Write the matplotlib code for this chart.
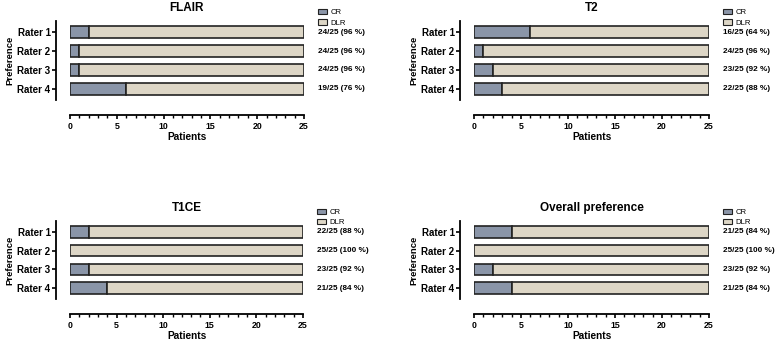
import matplotlib.pyplot as plt
import matplotlib.transforms as mtransforms
from matplotlib.patches import Patch

plt.rcParams['font.family'] = ['Liberation Sans', 'DejaVu Sans']
plt.rcParams['font.weight'] = 'bold'

# data
raters = ['Rater 1', 'Rater 2', 'Rater 3', 'Rater 4']
total = 25
titles = ['FLAIR', 'T2', 'T1CE', 'Overall preference']
cr_counts = [
    [2, 1, 1, 6],
    [6, 1, 2, 3],
    [2, 0, 2, 4],
    [4, 0, 2, 4],
]
pct_labels = [
    ['24/25 (96 %)', '24/25 (96 %)', '24/25 (96 %)', '19/25 (76 %)'],
    ['16/25 (64 %)', '24/25 (96 %)', '23/25 (92 %)', '22/25 (88 %)'],
    ['22/25 (88 %)', '25/25 (100 %)', '23/25 (92 %)', '21/25 (84 %)'],
    ['21/25 (84 %)', '25/25 (100 %)', '23/25 (92 %)', '21/25 (84 %)'],
]

CR_COL = '#8a95a8'
DLR_COL = '#ddd6c6'

W, H = 776, 342
fig = plt.figure(figsize=(W / 100, H / 100), dpi=100)

# pixel boxes: (x0, x1, y_top, y_bottom)
boxes = [(70, 304, 21, 100), (474, 709, 21, 100),
         (70, 303, 221, 299), (474, 709, 221, 299)]

for i, (x0, x1, yt, yb) in enumerate(boxes):
    ax = fig.add_axes([x0 / W, 1 - yb / H, (x1 - x0) / W, (yb - yt) / H])
    ypos = list(range(len(raters)))
    cr = cr_counts[i]
    dlr = [total - c for c in cr]
    ax.barh(ypos, cr, height=0.62, color=CR_COL, edgecolor='#222222', linewidth=1.2)
    ax.barh(ypos, dlr, left=cr, height=0.62, color=DLR_COL, edgecolor='#222222',
            linewidth=1.2)
    ax.set_xlim(0, 25)
    ax.set_ylim(3.58, -0.58)
    ax.set_yticks(ypos, raters)
    ax.set_xticks([0, 5, 10, 15, 20, 25])
    ax.set_xticks(range(26), minor=True)
    ax.tick_params(axis='x', labelsize=6.3, width=1.2, length=3, pad=2)
    ax.tick_params(axis='x', which='minor', width=1, length=2)
    ax.tick_params(axis='y', labelsize=7, width=1.2, length=3, pad=1)
    for s in ['top', 'right']:
        ax.spines[s].set_visible(False)
    ax.spines['left'].set_position(('outward', 10))
    ax.spines['bottom'].set_position(('outward', 11))
    ax.spines['left'].set_linewidth(1.3)
    ax.spines['bottom'].set_linewidth(1.3)
    ax.set_xlabel('Patients', fontsize=7.3, fontweight='bold', labelpad=0.5)
    ax.set_ylabel('Preference', fontsize=6.8, fontweight='bold', labelpad=2)
    ax.set_title(titles[i], fontsize=8.5, fontweight='bold', pad=7)

    trans = mtransforms.blended_transform_factory(ax.transAxes, ax.transData)
    for y, lab in zip(ypos, pct_labels[i]):
        ax.annotate(lab, xy=(1, y), xycoords=trans, xytext=(10, 0),
                    textcoords='offset points', fontsize=5.9, fontweight='bold',
                    va='center', ha='left')

    handles = [Patch(facecolor=CR_COL, edgecolor='#222222', linewidth=0.8, label='CR'),
               Patch(facecolor=DLR_COL, edgecolor='#222222', linewidth=0.8, label='DLR')]
    leg = ax.legend(handles=handles, loc='lower left', bbox_to_anchor=(1.06, 0.93),
                    frameon=False, fontsize=5.6, handlelength=1.1, handleheight=0.7,
                    handletextpad=0.5, labelspacing=0.35, borderpad=0, borderaxespad=0)
    for t in leg.get_texts():
        t.set_fontweight('normal')

fig.savefig('out.png', dpi=100)
